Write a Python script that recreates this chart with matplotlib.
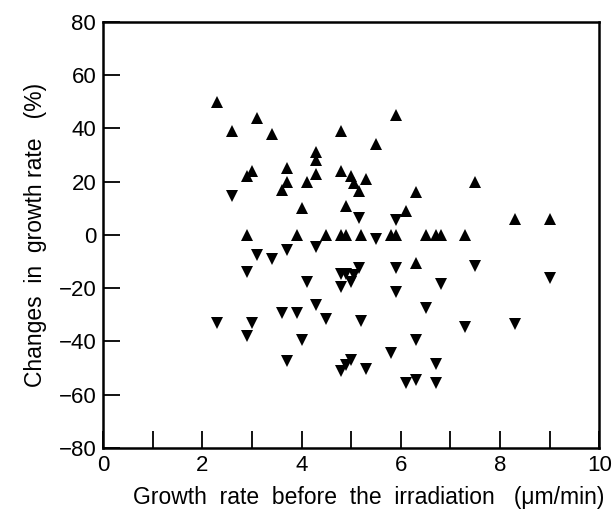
import matplotlib
matplotlib.use("Agg")
import matplotlib.pyplot as plt
import numpy as np

plt.rcParams['font.family'] = ['Liberation Sans', 'DejaVu Sans']

# increased growth rate (upward triangles)
up_x = [2.3, 3.1, 2.6, 3.4, 4.8, 5.9, 5.5, 4.3, 4.3, 3.0, 2.9, 3.7, 4.3, 4.8,
        5.0, 5.05, 5.15, 5.3, 3.7, 4.1, 3.6, 6.3, 7.5, 4.0, 4.9, 6.1, 8.3, 9.0,
        6.3,
        2.9, 3.9, 4.5, 4.8, 4.9, 5.2, 5.8, 5.9, 6.5, 6.7, 6.8, 7.3]
up_y = [50, 44, 39, 38, 39, 45, 34, 31, 28, 24, 22, 25, 23, 24,
        22, 19.5, 16.5, 21, 20, 20, 17, 16, 20, 10, 11, 9, 6, 6,
        -10.5,
        0, 0, 0, 0, 0, 0, 0, 0, 0, 0, 0, 0]

# decreased growth rate (downward triangles)
down_x = [2.6, 5.15, 5.9, 5.5, 3.1, 3.4, 3.7, 4.3, 2.9, 4.1, 4.8, 4.9, 5.05,
          5.0, 5.15, 4.8, 5.9, 7.5, 9.0, 6.8, 5.9, 4.3, 3.6, 3.9, 4.5, 2.3,
          3.0, 5.2, 6.5, 7.3, 8.3, 2.9, 4.0, 6.3, 3.7, 5.8, 5.0, 4.9, 4.8,
          5.3, 6.7, 6.1, 6.3, 6.7]
down_y = [14.5, 6.5, 5.5, -1.5, -7.5, -9, -5.5, -4.5, -14, -17.5, -14.5, -14.5,
          -15, -17.5, -12.5, -19.5, -12.5, -11.5, -16, -18.5, -21.5, -26.5,
          -29.5, -29.5, -31.5, -33, -33, -32.5, -27.5, -34.5, -33.5, -38, -39.5,
          -39.5, -47.5, -44.5, -47, -49, -51, -50.5, -48.5, -55.5, -54.5, -55.5]

fig = plt.figure(figsize=(6.14, 5.09), dpi=100)
ax = fig.add_axes([0.168, 0.12, 0.808, 0.837])

ax.plot(up_x, up_y, '^', color='black', ms=8, mew=0, linestyle='none')
ax.plot(down_x, down_y, 'v', color='black', ms=8, mew=0, linestyle='none')

ax.set_xlim(0, 10)
ax.set_ylim(-80, 80)
ax.set_xticks(np.arange(0, 11, 2))
ax.set_xticks(np.arange(1, 10, 2), minor=True)
ax.set_yticks(np.arange(-80, 81, 20))
ax.tick_params(axis='both', which='both', direction='in', length=12, width=1.3,
               top=False, right=False, labelsize=16, pad=5)
for s in ax.spines.values():
    s.set_linewidth(1.8)

ax.set_xlabel('Growth  rate  before  the  irradiation   (\u03bcm/min)', fontsize=16.5, labelpad=8)
ax.set_ylabel('Changes  in  growth rate   (%)', fontsize=16.5, labelpad=8)
ax.xaxis.set_label_coords(0.535, -0.09)

fig.savefig('out.png', dpi=100)
